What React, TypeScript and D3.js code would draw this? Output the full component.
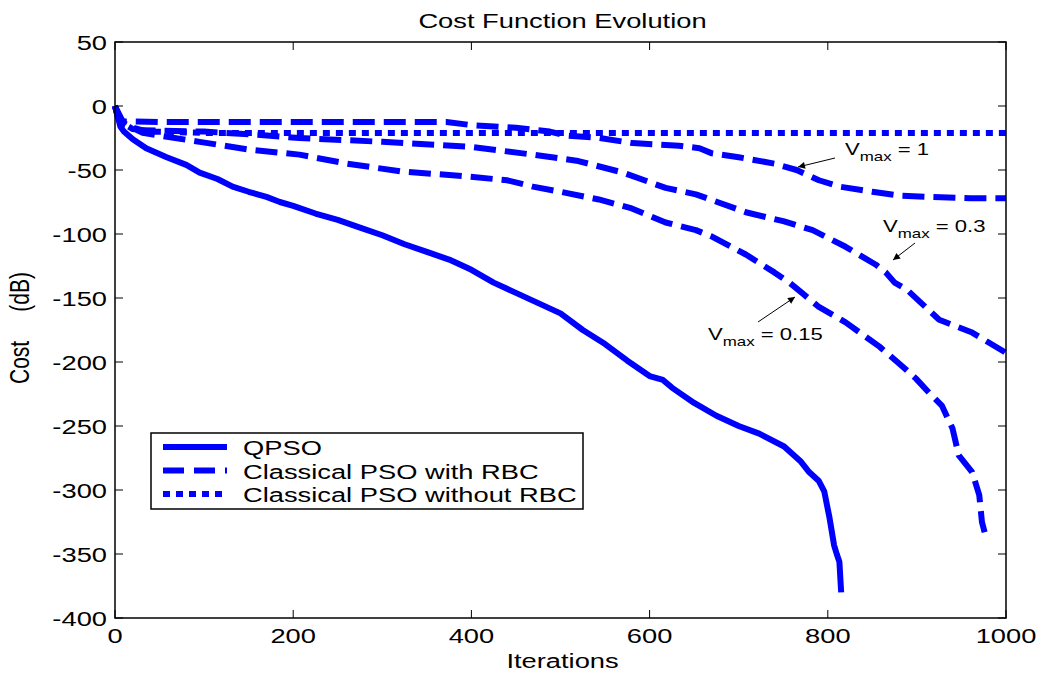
import React from "react";
import * as d3 from "d3";

const TITLE = "Cost Function Evolution";
const X_LABEL = "Iterations";
const Y_LABEL = "Cost     (dB)";
const X_TICKS = [0, 200, 400, 600, 800, 1000];
const Y_TICKS = [50, 0, -50, -100, -150, -200, -250, -300, -350, -400];
const LEGEND = ["QPSO", "Classical PSO with RBC", "Classical PSO without RBC"];

const qpsoIter = [0, 3, 6, 10, 20, 35, 58, 80, 95, 115, 132, 150, 170, 185, 200, 225, 250, 275, 300, 325, 350, 375, 400, 425, 450, 475, 500, 525, 550, 575, 600, 615, 625, 650, 675, 700, 723, 751, 770, 779, 790, 796, 802, 807, 810, 813, 815];
const qpsoCost = [0, -8, -16, -20, -26, -33, -40, -46, -52, -57, -63, -67, -71, -75, -78, -84, -89, -95, -101, -108, -114, -120, -128, -138, -146, -154, -162, -175, -186, -199, -211, -214, -220, -232, -242, -250, -256, -266, -278, -286, -293, -301, -322, -343, -350, -356, -380];

const v1Iter = [0, 3, 8, 50, 100, 200, 300, 372, 401, 450, 488, 506, 544, 581, 633, 656, 670, 700, 740, 765, 790, 813, 850, 880, 914, 960, 1000];
const v1Cost = [0, -8, -12, -12.5, -12.5, -12.5, -12.5, -12.5, -15, -17, -20, -23, -25, -29, -31, -33, -37, -40, -45, -50, -58, -63, -67, -70, -71, -72, -72];

const v03Iter = [0, 5, 15, 31, 100, 150, 207, 300, 400, 469, 520, 570, 618, 652, 708, 750, 783, 820, 854, 865, 875, 888, 925, 962, 998, 1000];
const v03Cost = [0, -10, -16, -19, -20, -22, -25, -28, -32, -38, -43, -52, -64, -69, -83, -90, -97, -110, -124, -130, -138, -143, -167, -177, -192, -193];

const v015Iter = [0, 10, 31, 95, 150, 207, 260, 320, 394, 440, 469, 500, 543, 580, 618, 652, 670, 708, 740, 757, 771, 790, 820, 858, 888, 899, 915, 928, 940, 947, 962, 970, 973, 976];
const v015Cost = [0, -14, -21, -28, -34, -38, -45, -51, -55, -58, -63, -67, -73, -80, -91, -97, -102, -116, -130, -138, -146, -157, -169, -188, -206, -213, -225, -234, -252, -273, -286, -304, -325, -333];

const noRbcIter = [0, 3, 10, 20, 40, 100, 300, 500, 700, 1000];
const noRbcCost = [0, -8, -14, -18, -20, -21, -21, -21, -21, -21];

const ANNOTATIONS = [
  { label: "1", tx: 845, ty: 155, ax1: 835, ay1: 158, ax2: 798, ay2: 167 },
  { label: "0.3", tx: 883, ty: 232, ax1: 915, ay1: 243, ax2: 893, ay2: 260 },
  { label: "0.15", tx: 708, ty: 340, ax1: 758, ay1: 322, ax2: 795, ay2: 297 },
];

const W = 1042;
const H = 676;
const SX = 1.3;
const FONT = "'Liberation Sans', Arial, Helvetica, sans-serif";
const BLUE = "#0000ff";

const T = ({ x, y, anchor = "start", size = 21, children, rotate = 0 }: any) => (
  <text
    transform={`translate(${x},${y}) scale(${SX},1)${rotate ? ` rotate(${rotate})` : ""}`}
    textAnchor={anchor}
    fontSize={size}
    fontFamily={FONT}
    fill="#000"
    style={{ whiteSpace: "pre" }}
  >
    {children}
  </text>
);

export default function App() {
  const x = d3.scaleLinear().domain([0, 1000]).range([115, 1006]);
  const y = d3.scaleLinear().domain([-400, 50]).range([618, 42]);
  const line = (it: number[], c: number[]) =>
    d3.line<number>().x((_, i) => x(it[i])).y((d) => y(d))(c) || "";

  const x0 = x.range()[0], x1 = x.range()[1];
  const y0 = y.range()[1], y1 = y.range()[0];
  const TL = 8;

  const series = [
    { d: line(noRbcIter, noRbcCost), dash: "7,6" },
    { d: line(v1Iter, v1Cost), dash: "22,9" },
    { d: line(v03Iter, v03Cost), dash: "22,9" },
    { d: line(v015Iter, v015Cost), dash: "22,9" },
    { d: line(qpsoIter, qpsoCost), dash: "none" },
  ];
  const legendDash = ["none", "21,10", "7,6"];

  return (
    <svg width={W} height={H} style={{ position: "absolute", left: 0, top: 0, background: "#fff" }}>
      <defs>
        <marker id="ah" viewBox="0 0 10 10" refX="10" refY="5" markerWidth="10" markerHeight="7" markerUnits="userSpaceOnUse" orient="auto">
          <path d="M0,0 L10,5 L0,10 z" fill="#000" />
        </marker>
      </defs>
      <rect x={0} y={0} width={W} height={H} fill="#fff" />
      <T x={(x0 + x1) / 2 + 2} y={28} anchor="middle">{TITLE}</T>

      {/* series */}
      <g clipPath="">
        {series.map((s, i) => (
          <path key={i} d={s.d} fill="none" stroke={BLUE} strokeWidth={6} strokeDasharray={s.dash} strokeLinejoin="round" />
        ))}
      </g>

      {/* axes box */}
      <rect x={x0} y={y0} width={x1 - x0} height={y1 - y0} fill="none" stroke="#000" strokeWidth={1.5} />
      {X_TICKS.map((t) => (
        <g key={"xt" + t}>
          <line x1={x(t)} x2={x(t)} y1={y1} y2={y1 - TL} stroke="#000" />
          <line x1={x(t)} x2={x(t)} y1={y0} y2={y0 + TL} stroke="#000" />
          <T x={x(t)} y={643} anchor="middle">{String(t)}</T>
        </g>
      ))}
      {Y_TICKS.map((t) => (
        <g key={"yt" + t}>
          <line x1={x0} x2={x0 + TL} y1={y(t)} y2={y(t)} stroke="#000" />
          <line x1={x1} x2={x1 - TL} y1={y(t)} y2={y(t)} stroke="#000" />
          <T x={107} y={y(t) + 8} anchor="end">{String(t)}</T>
        </g>
      ))}
      <T x={(x0 + x1) / 2 + 2} y={668} anchor="middle">{X_LABEL}</T>
      <T x={29} y={328} anchor="middle" rotate={-90}>{Y_LABEL}</T>

      {/* annotations */}
      {ANNOTATIONS.map((a, i) => (
        <g key={"an" + i}>
          <text
            transform={`translate(${a.tx},${a.ty}) scale(${SX},1)`}
            fontSize={17}
            fontFamily={FONT}
            fill="#000"
            style={{ whiteSpace: "pre" }}
          >
            V<tspan fontSize={13} dy={6}>max</tspan>
            <tspan dy={-6}>{" = " + a.label}</tspan>
          </text>
          <line x1={a.ax1} y1={a.ay1} x2={a.ax2} y2={a.ay2} stroke="#000" strokeWidth={1} markerEnd="url(#ah)" />
        </g>
      ))}

      {/* legend */}
      <rect x={151} y={433} width={432} height={76} fill="#fff" stroke="#000" strokeWidth={1.5} />
      {LEGEND.map((l, i) => (
        <g key={"lg" + i}>
          <line x1={163} x2={227} y1={447 + i * 23.5} y2={447 + i * 23.5} stroke={BLUE} strokeWidth={6} strokeDasharray={legendDash[i]} />
          <T x={243} y={455 + i * 23.5}>{l}</T>
        </g>
      ))}
    </svg>
  );
}
